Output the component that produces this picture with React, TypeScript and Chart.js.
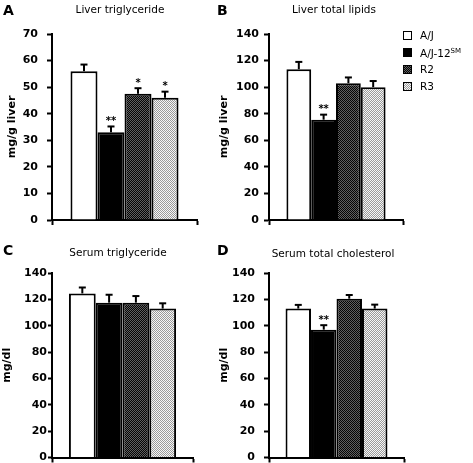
import React, { useEffect, useRef } from 'react';
import { Chart, registerables } from 'chart.js';
Chart.register(...registerables);

// ---- data ----
const groups = ['A/J', 'A/J-12SM', 'R2', 'R3'];

const liverTgMeans = [56, 33, 47.5, 46];
const liverTgErrors = [2.5, 2.2, 2.1, 2.3];
const liverTgSig = ['', '**', '*', '*'];

const liverLipidMeans = [113.5, 75.5, 103, 100];
const liverLipidErrors = [5.5, 3.8, 4.3, 4.6];
const liverLipidSig = ['', '**', '', ''];

const serumTgMeans = [124.5, 117.5, 117.5, 113];
const serumTgErrors = [4.5, 6, 5, 4];
const serumTgSig = ['', '', '', ''];

const serumCholMeans = [113, 97, 120.5, 113];
const serumCholErrors = [2.8, 3.4, 2.8, 3];
const serumCholSig = ['', '**', '', ''];

const FONT = '"DejaVu Sans", "Liberation Sans", Arial, sans-serif';

function makePattern(c1: string, c2: string, cell: number) {
  const cv = document.createElement('canvas');
  cv.width = cell * 2;
  cv.height = cell * 2;
  const g = cv.getContext('2d')!;
  g.fillStyle = c1;
  g.fillRect(0, 0, cell * 2, cell * 2);
  g.fillStyle = c2;
  g.fillRect(0, 0, cell, cell);
  g.fillRect(cell, cell, cell, cell);
  return g.createPattern(cv, 'repeat')!;
}

const errorBarPlugin = {
  id: 'errorBars',
  afterDatasetsDraw(chart: any) {
    const { ctx } = chart;
    const yScale = chart.scales.y;
    const errs: number[] = chart.options.plugins.errorBars.errors;
    const sig: string[] = chart.options.plugins.errorBars.sig;
    ctx.save();
    chart.data.datasets.forEach((ds: any, i: number) => {
      const meta = chart.getDatasetMeta(i);
      const el = meta.data[0];
      if (!el) return;
      const v = ds.data[0];
      const yTop = yScale.getPixelForValue(v);
      const yErr = yScale.getPixelForValue(v + errs[i]);
      ctx.strokeStyle = '#000';
      ctx.lineWidth = 2;
      ctx.beginPath();
      ctx.moveTo(el.x, yTop);
      ctx.lineTo(el.x, yErr);
      ctx.stroke();
      ctx.beginPath();
      ctx.moveTo(el.x - 3.5, yErr);
      ctx.lineTo(el.x + 3.5, yErr);
      ctx.stroke();
      if (sig[i]) {
        ctx.fillStyle = '#000';
        ctx.font = 'bold 10px ' + FONT;
        ctx.textAlign = 'center';
        ctx.textBaseline = 'middle';
        ctx.fillText(sig[i], el.x, yErr - 5);
      }
    });
    ctx.restore();
  },
};

type Panel = {
  means: number[];
  errors: number[];
  sig: string[];
  max: number;
  step: number;
  yTitle: string;
  box: { left: number; top: number; width: number; height: number };
  area: { left: number; right: number; top: number; bottom: number };
  catPct: number;
  tickPad: number;
  tickLen: number;
  titlePad: number;
};

function BarPanel({ p }: { p: Panel }) {
  const ref = useRef<HTMLCanvasElement>(null);
  useEffect(() => {
    const fills = [
      '#ffffff',
      '#000000',
      makePattern('#050505', '#606060', 1),
      makePattern('#f6f6f6', '#9a9a9a', 1),
    ];
    const { box, area } = p;
    const chart = new Chart(ref.current!, {
      type: 'bar',
      data: {
        labels: [''],
        datasets: groups.map((g, i) => ({
          label: g,
          data: [p.means[i]],
          backgroundColor: fills[i] as any,
          borderColor: '#000',
          borderWidth: 2,
          barPercentage: 1,
          categoryPercentage: p.catPct,
        })),
      },
      options: {
        responsive: false,
        animation: false,
        layout: {
          padding: {
            top: area.top - box.top,
            right: box.left + box.width - area.right,
            left: 0,
            bottom: 0,
          },
        },
        plugins: {
          legend: { display: false },
          tooltip: { enabled: false },
          title: { display: false },
          errorBars: { errors: p.errors, sig: p.sig },
        } as any,
        scales: {
          x: {
            grid: {
              display: true,
              drawOnChartArea: false,
              offset: true,
              tickLength: 5,
              tickWidth: 2,
              tickColor: '#000',
            },
            border: { display: true, width: 2, color: '#000' },
            ticks: { display: false },
            afterFit: (s: any) => {
              s.height = box.top + box.height - area.bottom;
              s.paddingLeft = 0;
              s.paddingRight = 0;
            },
          },
          y: {
            min: 0,
            max: p.max,
            ticks: {
              stepSize: p.step,
              color: '#000',
              font: { family: FONT, size: 11, weight: 'bold' },
              padding: p.tickPad,
            },
            grid: {
              display: true,
              drawOnChartArea: false,
              tickLength: p.tickLen,
              tickWidth: 2,
              tickColor: '#000',
            },
            border: { display: true, width: 2, color: '#000' },
            title: {
              display: true,
              text: p.yTitle,
              color: '#000',
              font: { family: FONT, size: 11, weight: 'bold' },
              padding: { top: p.titlePad, bottom: 0 },
            },
            afterFit: (s: any) => {
              s.width = area.left - box.left;
              s.paddingTop = 0;
              s.paddingBottom = 0;
            },
          },
        },
      },
      plugins: [errorBarPlugin],
    });
    return () => chart.destroy();
  }, []);
  const { box } = p;
  return (
    <canvas
      ref={ref}
      width={box.width}
      height={box.height}
      style={{ position: 'absolute', left: box.left, top: box.top, width: box.width, height: box.height }}
    />
  );
}

const panels: Panel[] = [
  {
    means: liverTgMeans, errors: liverTgErrors, sig: liverTgSig, max: 70, step: 10, yTitle: 'mg/g liver',
    box: { left: 0, top: 0, width: 230, height: 230 },
    area: { left: 52, right: 197, top: 34, bottom: 220 },
    catPct: 0.745, tickPad: 9, tickLen: 5, titlePad: 6,
  },
  {
    means: liverLipidMeans, errors: liverLipidErrors, sig: liverLipidSig, max: 140, step: 20, yTitle: 'mg/g liver',
    box: { left: 213, top: 0, width: 230, height: 230 },
    area: { left: 269, right: 403, top: 34, bottom: 220 },
    catPct: 0.74, tickPad: 5, tickLen: 5, titlePad: 5,
  },
  {
    means: serumTgMeans, errors: serumTgErrors, sig: serumTgSig, max: 140, step: 20, yTitle: 'mg/dl',
    box: { left: 0, top: 230, width: 230, height: 233 },
    area: { left: 52, right: 193, top: 273, bottom: 457.5 },
    catPct: 0.76, tickPad: 1, tickLen: 4, titlePad: 1,
  },
  {
    means: serumCholMeans, errors: serumCholErrors, sig: serumCholSig, max: 140, step: 20, yTitle: 'mg/dl',
    box: { left: 213, top: 230, width: 230, height: 233 },
    area: { left: 269, right: 404, top: 273, bottom: 457.5 },
    catPct: 0.755, tickPad: 9, tickLen: 5, titlePad: 5,
  },
];

const titles = [
  { text: 'Liver triglyceride', x: 120, y: 9 },
  { text: 'Liver total lipids', x: 334, y: 9 },
  { text: 'Serum triglyceride', x: 118, y: 252 },
  { text: 'Serum total cholesterol', x: 333, y: 253 },
];
const letters = [
  { text: 'A', x: 3, y: 3 },
  { text: 'B', x: 217, y: 3 },
  { text: 'C', x: 3, y: 243 },
  { text: 'D', x: 217, y: 243 },
];

const legendFills = [
  '#fff',
  '#000',
  'repeating-conic-gradient(#050505 0 25%, #606060 0 50%) 0 0/2px 2px',
  'repeating-conic-gradient(#f6f6f6 0 25%, #9a9a9a 0 50%) 0 0/2px 2px',
];

export default function App() {
  return (
    <div style={{ position: 'absolute', left: 0, top: 0, width: 473, height: 463, background: '#fff', overflow: 'hidden', fontFamily: FONT, color: '#000' }}>
      {panels.map((p, i) => (
        <BarPanel key={i} p={p} />
      ))}
      {titles.map((t, i) => (
        <div key={'t' + i} style={{ position: 'absolute', left: t.x, top: t.y, transform: 'translate(-50%,-50%)', fontSize: 10.5, whiteSpace: 'nowrap', lineHeight: '12px' }}>
          {t.text}
        </div>
      ))}
      {letters.map((t, i) => (
        <div key={'l' + i} style={{ position: 'absolute', left: t.x, top: t.y, fontSize: 14, fontWeight: 'bold', lineHeight: '14px' }}>
          {t.text}
        </div>
      ))}
      {groups.map((g, i) => (
        <div key={'g' + i} style={{ position: 'absolute', left: 403, top: 30 + i * 17, height: 10, display: 'flex', alignItems: 'center', whiteSpace: 'nowrap' }}>
          <div style={{ width: 9, height: 9, boxSizing: 'border-box', border: '1.5px solid #000', background: legendFills[i] }} />
          <span style={{ marginLeft: 8, fontSize: 10.5, lineHeight: '10px' }}>
            {g === 'A/J-12SM' ? (
              <>
                A/J-12<sup style={{ fontSize: 7, verticalAlign: 4 }}>SM</sup>
              </>
            ) : (
              g
            )}
          </span>
        </div>
      ))}
    </div>
  );
}
